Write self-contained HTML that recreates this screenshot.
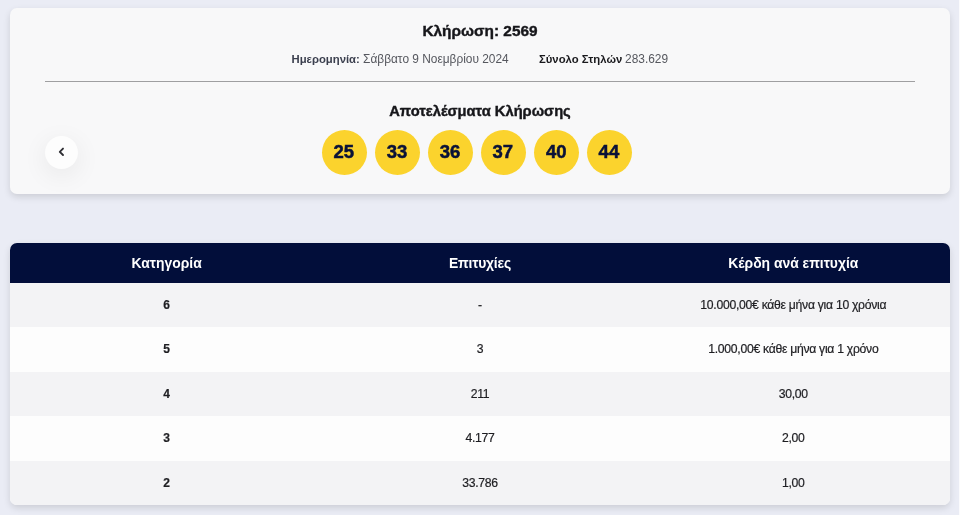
<!DOCTYPE html>
<html lang="el">
<head>
<meta charset="utf-8">
<title>Κλήρωση 2569</title>
<style>
html,body{margin:0;padding:0}
.card,.table{will-change:transform}
body{width:960px;height:515px;overflow:hidden;background:#eaecf5;position:relative;font-family:"Liberation Sans","DejaVu Sans",sans-serif;color:#1b1b1f}
.edge{position:absolute;right:0;top:0;width:1px;height:515px;background:#fbfbfd}
.card{position:absolute;left:10px;top:8px;width:940px;height:186px;background:#f8f8f9;border-radius:7px;box-shadow:0 3px 7px rgba(0,0,0,.13),0 0 2px rgba(0,0,0,.025)}
.t{position:absolute;left:0;width:940px;text-align:center;white-space:nowrap}
.title{top:12.6px;font-size:15.4px;font-weight:bold;line-height:20px;color:#16161a;-webkit-text-stroke:0.4px #16161a}
.sb,.sr{position:absolute;white-space:nowrap;line-height:1}
.sb{top:45.6px;font-size:11.3px;font-weight:bold;color:#3b3f4e}
.sr{top:45.7px;font-size:11.9px;color:#55575e}
.hr{position:absolute;left:35px;top:73px;width:870px;height:1px;background:#9f9fa1}
.head{top:92.5px;font-size:14.7px;font-weight:bold;line-height:20px;color:#16161a;-webkit-text-stroke:0.4px #16161a}
.ball{position:absolute;top:121.5px;width:45px;height:45px;border-radius:50%;background:#fbd32d;color:#0a1238;font-weight:bold;font-size:18.5px;line-height:43.8px;text-align:center;text-indent:-1.4px;-webkit-text-stroke:0.5px #0a1238}
.prev{position:absolute;left:35px;top:128px;width:33px;height:33px;border-radius:50%;background:#fdfdfd;box-shadow:0 6px 26px rgba(0,0,0,.075)}
.prev svg{position:absolute;left:0;top:0}
.table{position:absolute;left:10px;top:243px;width:940px;height:262px;border-radius:7px;overflow:hidden;box-shadow:0 3px 7px rgba(0,0,0,.13),0 0 2px rgba(0,0,0,.025);background:#fdfdfd}
.th{position:absolute;left:0;top:0;width:940px;height:40px;background:#020e3a}
.row{position:absolute;left:0;width:940px;height:44.4px}
.row.o{background:#f3f3f5}
.row.e{background:#fdfdfd}
.c{position:absolute;top:0;width:313.33px;text-align:center;white-space:nowrap}
.c1{left:0}.c2{left:313.33px}.c3{left:626.67px}
.th .c{color:#fff;font-weight:bold;font-size:13.9px;line-height:40px}
.row .c{font-size:12.2px;letter-spacing:-0.28px;line-height:44.4px;color:#1e1e22;-webkit-text-stroke:0.2px #1e1e22}
.row .c1{font-weight:bold;font-size:12px;letter-spacing:0}
</style>
</head>
<body>
<div class="edge"></div>
<div class="card">
  <div class="t title">Κλήρωση: 2569</div>
  <span class="sb" style="left:281.5px">Ημερομηνία:</span><span class="sr" style="left:353.1px">Σάββατο 9 Νοεμβρίου 2024</span><span class="sb" style="left:529px;color:#19191d">Σύνολο Στηλών</span><span class="sr" style="left:615.1px">283.629</span>
  <div class="hr"></div>
  <div class="t head">Αποτελέσματα Κλήρωσης</div>
  <div class="ball" style="left:312px">25</div>
  <div class="ball" style="left:365.3px">33</div>
  <div class="ball" style="left:418.3px">36</div>
  <div class="ball" style="left:471px">37</div>
  <div class="ball" style="left:524.4px">40</div>
  <div class="ball" style="left:577.1px">44</div>
  <div class="prev"><svg width="33" height="33" viewBox="0 0 33 33"><path d="M18 12.6 L14.8 15.8 L18 19" fill="none" stroke="#2e2e33" stroke-width="1.9" stroke-linecap="round" stroke-linejoin="round"/></svg></div>
</div>
<div class="table">
  <div class="th"><div class="c c1">Κατηγορία</div><div class="c c2" style="letter-spacing:-0.2px">Επιτυχίες</div><div class="c c3">Κέρδη ανά επιτυχία</div></div>
  <div class="row o" style="top:40px"><div class="c c1">6</div><div class="c c2">-</div><div class="c c3">10.000,00€ κάθε μήνα για 10 χρόνια</div></div>
  <div class="row e" style="top:84.4px"><div class="c c1">5</div><div class="c c2">3</div><div class="c c3">1.000,00€ κάθε μήνα για 1 χρόνο</div></div>
  <div class="row o" style="top:128.8px"><div class="c c1">4</div><div class="c c2">211</div><div class="c c3">30,00</div></div>
  <div class="row e" style="top:173.2px"><div class="c c1">3</div><div class="c c2">4.177</div><div class="c c3">2,00</div></div>
  <div class="row o" style="top:217.6px"><div class="c c1">2</div><div class="c c2">33.786</div><div class="c c3">1,00</div></div>
</div>
</body>
</html>
